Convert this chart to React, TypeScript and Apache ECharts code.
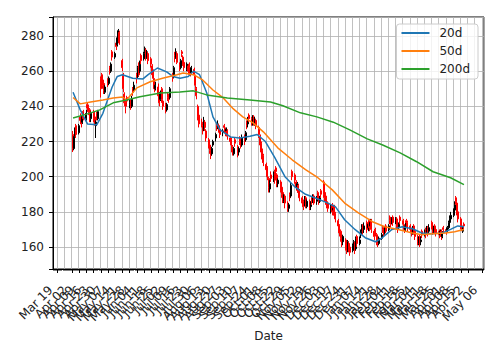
import React, { useEffect, useRef } from "react";
import * as echarts from "echarts";

// calendar span of the x axis and the trading period
const axisStart = "2018-03-15";
const axisDays = 419;
const firstTrade = "2018-04-03";
const lastTrade = "2019-04-18";

// daily OHLC (one entry per weekday from firstTrade to lastTrade)
const opens = [
  224, 216, 223, 229,
  225, 234, 233, 231, 237,
  233, 241, 240, 238, 233,
  237, 234, 229, 236, 233,
  256, 258, 255, 253, 248,
  255, 253, 262, 260, 271,
  268, 276, 275, 279, 282,
  266, 258, 247, 242, 245,
  241, 243, 240, 250, 249,
  258, 257, 263, 260, 269,
  267, 271, 272, 268, 270,
  267, 263, 260, 255, 250,
  251, 247, 244, 250, 243,
  241, 238, 247, 246, 245,
  258, 257, 269, 268, 270,
  264, 262, 271, 268, 265,
  261, 263, 264, 261, 259,
  261, 257, 250, 240, 235,
  231, 229, 227, 231, 226,
  221, 218, 215, 213, 218,
  222, 229, 228, 229, 227,
  225, 229, 227, 226, 226,
  222, 221, 217, 213, 221,
  217, 214, 222, 220, 218,
  223, 221, 231, 230, 235,
  233, 230, 234, 230, 232,
  228, 223, 219, 215, 212,
  207, 205, 199, 193, 201,
  199, 203, 205, 201, 196,
  197, 194, 191, 186, 189,
  185, 182, 190, 189, 203,
  201, 197, 193, 195, 192,
  188, 186, 185, 188, 183,
  186, 183, 188, 187, 189,
  186, 191, 189, 186, 192,
  197, 191, 189, 185, 185,
  181, 184, 181, 183, 179,
  175, 172, 169, 166, 163,
  164, 160, 158, 162, 160,
  158, 160, 162, 159, 166,
  162, 167, 169, 172, 170,
  174, 171, 175, 172, 175,
  169, 170, 167, 164, 162,
  165, 171, 170, 168, 172,
  170, 177, 176, 174, 177,
  175, 176, 172, 171, 177,
  175, 172, 170, 175, 174,
  172, 170, 168, 172, 169,
  166, 162, 166, 163, 169,
  167, 170, 168, 171, 169,
  174, 172, 169, 172, 170,
  169, 167, 169, 166, 171,
  170, 169, 171, 174, 176,
  178, 181, 188, 185, 180,
  176, 172, 169, 173,
];
const closes = [
  216, 222, 226, 224,
  229, 232, 230, 235, 233,
  236, 239, 237, 234, 236,
  233, 230, 231, 234, 237,
  250, 255, 252, 249, 251,
  253, 256, 260, 264, 268,
  270, 274, 279, 283, 276,
  262, 250, 242, 240, 243,
  242, 240, 244, 248, 252,
  256, 262, 258, 264, 266,
  270, 273, 268, 271, 266,
  264, 258, 256, 250, 252,
  246, 242, 248, 244, 240,
  238, 241, 245, 244, 250,
  256, 262, 268, 271, 265,
  262, 266, 270, 264, 262,
  264, 260, 262, 258, 262,
  258, 252, 246, 234, 230,
  230, 226, 232, 228, 222,
  218, 215, 212, 216, 220,
  224, 228, 230, 226, 224,
  226, 228, 225, 227, 223,
  220, 218, 214, 216, 219,
  213, 216, 220, 218, 222,
  220, 225, 229, 232, 233,
  231, 233, 230, 232, 229,
  224, 218, 214, 210, 208,
  204, 200, 194, 196, 199,
  201, 198, 203, 196, 198,
  193, 190, 187, 189, 185,
  182, 184, 188, 195, 200,
  198, 194, 196, 191, 188,
  185, 183, 187, 184, 186,
  182, 184, 186, 188, 185,
  187, 189, 186, 188, 190,
  190, 188, 186, 184, 182,
  183, 180, 182, 178, 176,
  172, 168, 165, 162, 166,
  160, 158, 163, 159, 157,
  161, 163, 158, 165, 162,
  164, 168, 171, 169, 172,
  170, 173, 171, 174, 170,
  166, 168, 163, 162, 165,
  167, 170, 168, 171, 169,
  172, 175, 173, 176, 174,
  176, 172, 170, 173, 175,
  173, 170, 172, 174, 171,
  170, 168, 171, 169, 166,
  163, 165, 162, 164, 167,
  169, 167, 170, 168, 171,
  172, 169, 171, 170, 168,
  167, 169, 166, 168, 170,
  169, 171, 174, 176, 178,
  181, 184, 186, 180, 176,
  172, 170, 171, 172,
];
const lows = [
  214, 215, 221, 222,
  224, 230, 228, 230, 232,
  232, 237, 235, 231, 231,
  231, 229, 222, 232, 232,
  245, 253, 250, 247, 247,
  251, 252, 258, 259, 266,
  267, 272, 274, 278, 275,
  260, 248, 240, 236, 241,
  239, 238, 239, 246, 248,
  253, 256, 257, 259, 264,
  266, 270, 266, 267, 264,
  262, 256, 254, 248, 249,
  245, 240, 243, 242, 238,
  236, 237, 243, 242, 244,
  254, 256, 265, 267, 264,
  260, 261, 268, 263, 260,
  260, 258, 260, 257, 258,
  256, 250, 244, 232, 228,
  228, 224, 226, 226, 220,
  216, 213, 210, 212, 217,
  220, 226, 227, 225, 222,
  223, 226, 223, 224, 221,
  218, 216, 212, 212, 217,
  211, 212, 218, 216, 217,
  218, 220, 227, 228, 231,
  229, 229, 229, 229, 227,
  222, 216, 212, 208, 206,
  202, 198, 191, 191, 197,
  197, 196, 200, 194, 194,
  191, 188, 185, 185, 182,
  180, 180, 186, 188, 198,
  196, 192, 191, 189, 186,
  183, 181, 183, 182, 182,
  181, 181, 184, 185, 184,
  184, 187, 184, 185, 188,
  188, 186, 184, 182, 180,
  179, 178, 179, 176, 174,
  170, 166, 163, 160, 161,
  158, 156, 157, 157, 155,
  157, 159, 156, 158, 160,
  161, 165, 167, 167, 168,
  168, 169, 169, 171, 168,
  164, 166, 161, 160, 161,
  164, 168, 166, 167, 168,
  169, 173, 171, 173, 172,
  173, 170, 168, 170, 173,
  171, 168, 169, 172, 169,
  168, 166, 167, 167, 164,
  161, 161, 160, 161, 165,
  166, 165, 167, 166, 168,
  170, 167, 168, 168, 166,
  165, 166, 164, 165, 168,
  167, 168, 170, 173, 175,
  177, 180, 184, 178, 174,
  170, 169, 168, 170,
];
const highs = [
  226, 223, 228, 230,
  230, 236, 234, 237, 238,
  238, 242, 241, 239, 237,
  238, 235, 232, 237, 238,
  257, 259, 257, 254, 252,
  256, 257, 263, 265, 272,
  271, 277, 280, 284, 283,
  267, 259, 248, 243, 246,
  244, 244, 246, 251, 254,
  259, 263, 265, 266, 270,
  271, 274, 273, 272, 271,
  268, 264, 261, 256, 254,
  253, 248, 249, 251, 244,
  242, 242, 248, 247, 251,
  259, 263, 271, 273, 271,
  265, 267, 272, 269, 266,
  265, 264, 265, 262, 263,
  262, 258, 251, 241, 236,
  233, 230, 234, 232, 227,
  222, 219, 216, 217, 221,
  225, 230, 232, 230, 228,
  227, 230, 228, 228, 227,
  223, 222, 218, 217, 222,
  218, 217, 223, 221, 224,
  224, 226, 232, 234, 236,
  234, 235, 235, 234, 233,
  229, 224, 220, 216, 213,
  208, 206, 200, 198, 203,
  203, 204, 206, 202, 199,
  198, 195, 192, 190, 190,
  186, 185, 191, 197, 204,
  202, 198, 197, 196, 193,
  189, 187, 189, 189, 187,
  187, 186, 189, 190, 190,
  189, 192, 190, 189, 193,
  198, 192, 190, 187, 186,
  184, 185, 184, 184, 180,
  176, 173, 170, 167, 167,
  165, 161, 164, 163, 161,
  162, 164, 163, 166, 167,
  166, 170, 173, 173, 174,
  175, 175, 176, 176, 176,
  170, 171, 168, 165, 166,
  168, 172, 171, 172, 173,
  173, 178, 177, 177, 178,
  177, 177, 173, 174, 178,
  176, 173, 174, 176, 175,
  173, 171, 172, 173, 170,
  167, 166, 167, 166, 170,
  170, 171, 172, 172, 173,
  175, 173, 172, 173, 171,
  170, 170, 170, 169, 172,
  171, 172, 175, 178, 180,
  182, 186, 189, 186, 181,
  177, 173, 172, 174,
];

// moving averages at sample dates
const ma20Dates = [
  "2018-04-03", "2018-04-10", "2018-04-17", "2018-04-26", "2018-05-02", "2018-05-11",
  "2018-05-16", "2018-05-21", "2018-05-31", "2018-06-10", "2018-06-15", "2018-06-24",
  "2018-07-03", "2018-07-09", "2018-07-16", "2018-07-24", "2018-07-29", "2018-08-04",
  "2018-08-11", "2018-08-17", "2018-08-24", "2018-09-03", "2018-09-12", "2018-09-22",
  "2018-09-29", "2018-10-07", "2018-10-16", "2018-10-26", "2018-11-05", "2018-11-15",
  "2018-11-24", "2018-12-04", "2018-12-14", "2018-12-23", "2019-01-02", "2019-01-12",
  "2019-01-22", "2019-01-28", "2019-02-07", "2019-02-17", "2019-02-27", "2019-03-08",
  "2019-03-18", "2019-03-28", "2019-04-05", "2019-04-12", "2019-04-18",
];
const ma20Values = [
  248, 238, 230, 229.5, 236, 251, 257, 258, 256, 255.6, 258, 261.8,
  259.6, 257, 256, 257, 260, 258, 247.6, 234, 226.6, 222.6, 222, 223,
  224, 220, 211, 200, 194, 190, 188, 185.7, 183, 175.5, 170, 165.3,
  163, 165, 170, 171.5, 170.4, 168, 167.5, 168, 170, 172, 171.5,
];
const ma50Dates = [
  "2018-04-03", "2018-04-10", "2018-04-20", "2018-05-02", "2018-05-12", "2018-05-21",
  "2018-05-25", "2018-06-04", "2018-06-17", "2018-06-29", "2018-07-13", "2018-07-19",
  "2018-07-29", "2018-08-07", "2018-08-17", "2018-08-27", "2018-09-05", "2018-09-15",
  "2018-09-25", "2018-10-05", "2018-10-19", "2018-11-02", "2018-11-15", "2018-11-27",
  "2018-12-11", "2018-12-23", "2019-01-05", "2019-01-19", "2019-01-31", "2019-02-13",
  "2019-02-27", "2019-03-08", "2019-03-18", "2019-03-31", "2019-04-09", "2019-04-18",
];
const ma50Values = [
  245, 241.4, 242.5, 243.6, 244.7, 245.3, 243.6, 250.5, 254, 256, 258, 259,
  258, 255, 249.3, 244.8, 239, 234, 230.6, 225.5, 216.4, 209.6, 204, 199.4,
  192.5, 185, 179.5, 174.4, 171.5, 170, 168, 167, 167.5, 168, 168.7, 170,
];
const ma200Dates = [
  "2018-04-03", "2018-04-17", "2018-04-29", "2018-05-12", "2018-05-25", "2018-06-07",
  "2018-06-27", "2018-07-16", "2018-07-29", "2018-08-11", "2018-08-31", "2018-09-22",
  "2018-10-12", "2018-10-24", "2018-11-10", "2018-11-26", "2018-12-12", "2018-12-28",
  "2019-01-14", "2019-01-29", "2019-02-15", "2019-03-03", "2019-03-19", "2019-04-05",
  "2019-04-18",
];
const ma200Values = [
  233.4, 235.7, 238, 242, 243.6, 245.4, 247.6, 248.2, 248.8, 246.5, 244.8, 243.6,
  242.5, 240.3, 236.3, 234, 231, 226.6, 221.5, 218, 213.5, 208.5, 202.8, 199.4,
  195.5,
];

const seriesNames = ["20d", "50d", "200d"];
const seriesColors = ["#1f77b4", "#ff7f0e", "#2ca02c"];
const yTickStep = 20;

const MONTHS = ["Jan", "Feb", "Mar", "Apr", "May", "Jun", "Jul", "Aug", "Sep", "Oct", "Nov", "Dec"];
const DAY_MS = 86400000;
const FONT = "DejaVu Sans";

function parseUTC(s: string): number {
  const [y, m, d] = s.split("-").map(Number);
  return Date.UTC(y, m - 1, d);
}

export default function App() {
  const ref = useRef<HTMLDivElement>(null);

  useEffect(() => {
    if (!ref.current) return;
    const t0 = parseUTC(axisStart);
    const days: string[] = [];
    const isMonday: boolean[] = [];
    for (let i = 0; i < axisDays; i++) {
      const d = new Date(t0 + i * DAY_MS);
      days.push(d.toISOString().slice(0, 10));
      isMonday.push(d.getUTCDay() === 1);
    }
    const dayIndex = (s: string) => Math.round((parseUTC(s) - t0) / DAY_MS);

    const candles: any[] = days.map(() => "-");
    const tStart = parseUTC(firstTrade);
    const tEnd = parseUTC(lastTrade);
    let k = 0;
    for (let t = tStart; t <= tEnd && k < closes.length; t += DAY_MS) {
      const wd = new Date(t).getUTCDay();
      if (wd === 0 || wd === 6) continue;
      const idx = Math.round((t - t0) / DAY_MS);
      candles[idx] = [opens[k], closes[k], lows[k], highs[k]];
      k++;
    }

    const maDates = [ma20Dates, ma50Dates, ma200Dates];
    const maValues = [ma20Values, ma50Values, ma200Values];

    const fmt = (v: string) => {
      const [, m, d] = v.split("-");
      return `${MONTHS[Number(m) - 1]} ${d}`;
    };
    const mondayInterval = (i: number) => isMonday[i];

    const chart = echarts.init(ref.current, null, { renderer: "svg" });
    chart.setOption({
      animation: false,
      backgroundColor: "#ffffff",
      grid: {
        left: 53,
        right: 16,
        top: 17,
        bottom: 75,
        containLabel: false,
        outerBoundsMode: "none",
        show: true,
        borderColor: "#000000",
        borderWidth: 1,
        backgroundColor: "transparent",
      },
      legend: {
        data: seriesNames,
        orient: "vertical",
        right: 22,
        top: 24,
        icon: "rect",
        itemWidth: 28,
        itemHeight: 2,
        itemGap: 6,
        padding: [3, 8, 4, 5],
        backgroundColor: "rgba(255,255,255,0.8)",
        borderColor: "#cccccc",
        borderWidth: 1,
        borderRadius: 3,
        textStyle: { fontFamily: FONT, fontSize: 12, color: "#222222", padding: [0, 0, 0, 5] },
      },
      xAxis: [
        {
          type: "category",
          data: days,
          boundaryGap: true,
          axisLine: { show: true, lineStyle: { color: "#000000", width: 1 } },
          axisTick: {
            show: true,
            interval: mondayInterval,
            alignWithLabel: true,
            length: 4,
            lineStyle: { color: "#000000", width: 1 },
          },
          axisLabel: {
            interval: mondayInterval,
            hideOverlap: false,
            showMinLabel: true,
            showMaxLabel: true,
            rotate: 45,
            formatter: fmt,
            fontFamily: FONT,
            fontSize: 12,
            color: "#222222",
            margin: 12,
            padding: [0, 10, 0, 0],
          },
          splitLine: {
            show: true,
            interval: mondayInterval,
            lineStyle: { color: "#b0b0b0", width: 0.8 },
          },
          name: "Date",
          nameLocation: "middle",
          nameGap: 59,
          nameTextStyle: { fontFamily: FONT, fontSize: 12, color: "#222222" },
        },
        {
          type: "category",
          data: days,
          position: "bottom",
          boundaryGap: true,
          axisLine: { show: false },
          axisTick: { show: true, interval: 0, alignWithLabel: true, length: 2, lineStyle: { color: "#000000", width: 0.5 } },
          axisLabel: { show: false },
          splitLine: { show: false },
        },
      ],
      yAxis: {
        type: "value",
        min: 147.5,
        max: 290.8,
        splitNumber: 7,
        axisLine: { show: true, lineStyle: { color: "#000000", width: 1 } },
        axisTick: { show: true, length: 4, lineStyle: { color: "#000000" } },
        axisLabel: {
          fontFamily: FONT,
          fontSize: 12,
          color: "#222222",
          margin: 9,
          formatter: (v: number) => (Math.abs(v % yTickStep) < 1e-6 ? String(v) : ""),
        },
        splitLine: { show: true, lineStyle: { color: "#b0b0b0", width: 0.8 } },
      },
      series: [
        {
          type: "candlestick",
          xAxisIndex: 0,
          yAxisIndex: 0,
          data: candles,
          barWidth: 1.5,
          itemStyle: {
            color: "#000000",
            color0: "#ff0000",
            borderColor: "#000000",
            borderColor0: "#ff0000",
            borderWidth: 1,
          },
        },
        ...seriesNames.map((name, i) => ({
          type: "line",
          name,
          xAxisIndex: 0,
          yAxisIndex: 0,
          data: maDates[i].map((d, j) => [dayIndex(d), maValues[i][j]]),
          symbol: "none",
          showSymbol: false,
          lineStyle: { width: 1.5, color: seriesColors[i] },
          itemStyle: { color: seriesColors[i] },
          z: 3,
        })),
      ],
    });
    return () => chart.dispose();
  }, []);

  return (
    <div
      ref={ref}
      style={{ position: "fixed", left: 0, top: 0, width: 500, height: 344, background: "#fff" }}
    />
  );
}
